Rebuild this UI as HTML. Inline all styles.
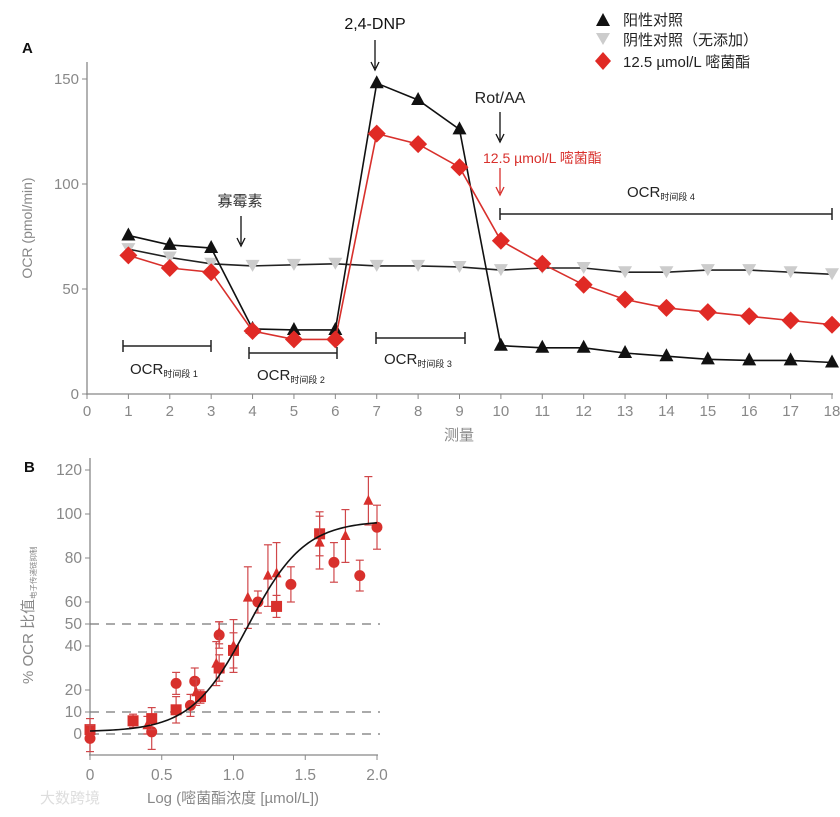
<!DOCTYPE html>
<html><head><meta charset="utf-8">
<style>
body{margin:0;background:#fff;width:840px;height:812px;overflow:hidden;font-family:"Liberation Sans","Noto Sans CJK SC",sans-serif}
svg text{font-family:"Liberation Sans","Noto Sans CJK SC",sans-serif}
</style></head>
<body>
<svg id="chart" width="840" height="812" viewBox="0 0 840 812" xmlns="http://www.w3.org/2000/svg"></svg>
<script>
// Panel A data
const measurements=[1,2,3,4,5,6,7,8,9,10,11,12,13,14,15,16,17,18];
const positiveCtrl=[75.5,71,69.5,31,30.5,30.5,148,140,126,23,22,22,19.5,18,16.5,16,16,15];
const negativeCtrl=[69,65,62,61,61.5,62,61,61,60.5,59,60,60,58,58,59,59,58,57];
const azoxy=[66,60,58,30,26,26,124,119,108,73,62,52,45,41,39,37,35,33];
const xTicksA=[0,1,2,3,4,5,6,7,8,9,10,11,12,13,14,15,16,17,18];
const yTicksA=[0,50,100,150];
// Panel B data
const bX=[0,0,0.3,0.4,0.43,0.43,0.6,0.6,0.7,0.73,0.74,0.77,0.88,0.9,0.9,0.9,1.0,1.0,1.1,1.17,1.24,1.3,1.3,1.4,1.6,1.6,1.7,1.78,1.88,1.94,2.0];
const bY=[2,-2,6,4,1,7,23,11,13,24,19,17,32,30,45,46,38,40,62,60,72,73,58,68,91,87,78,90,72,106,94];
const bErr=[5,6,3,4,8,5,5,6,5,6,6,3,10,6,6,5,8,12,14,5,14,14,5,8,10,12,9,12,7,11,10];
const bShape=['s','c','s','t','c','s','c','s','c','c','t','s','t','s','c','t','s','t','t','c','t','t','s','c','s','t','c','t','c','t','c'];
const fitParams=[1,97,1.1,2.2]; // bottom, top, logEC50, hill
const xTicksB=[0,0.5,1.0,1.5,2.0];
const yTicksB=[0,10,20,40,50,60,80,100,120];
const dashLines=[0,10,50];

const NS="http://www.w3.org/2000/svg";
const svg=document.getElementById('chart');
function el(tag,attrs,parent){const e=document.createElementNS(NS,tag);for(const k in attrs)e.setAttribute(k,attrs[k]);(parent||svg).appendChild(e);return e;}
function txt(s,attrs,parent){const e=el('text',attrs,parent);e.textContent=s;return e;}

// ===== Panel A =====
const ax=v=>87+v*(832-87)/18;
const ay=v=>394-v*2.1;
const gA=el('g',{});


txt('A',{x:22,y:53,'font-size':15,'font-weight':'bold',fill:'#111'},gA);
el('line',{x1:87,y1:62,x2:87,y2:395,stroke:'#888','stroke-width':1.3},gA);
el('line',{x1:86,y1:394,x2:833,y2:394,stroke:'#888','stroke-width':1.3},gA);
xTicksA.forEach(t=>{el('line',{x1:ax(t),y1:394,x2:ax(t),y2:399,stroke:'#888'},gA);
 const l=txt(t,{x:ax(t),y:416,'font-size':15,fill:'#888','text-anchor':'middle'},gA);
 });
yTicksA.forEach(t=>{el('line',{x1:82,y1:ay(t),x2:87,y2:ay(t),stroke:'#888'},gA);
 const l=txt(t,{x:79,y:ay(t)+5,'font-size':15,fill:'#888','text-anchor':'end'},gA);
 });
const ytA=txt('OCR (pmol/min)',{x:0,y:0,'font-size':14,fill:'#888','text-anchor':'middle',transform:'translate(32,228) rotate(-90)'},gA);

const xtA=txt('测量',{x:459,y:440,'font-size':15,fill:'#888','text-anchor':'middle'},gA);


function series(vals,color,marker,mcolor,name){
 const g=el('g',{},gA);
 el('polyline',{points:vals.map((v,i)=>ax(measurements[i])+','+ay(v)).join(' '),fill:'none',stroke:color,'stroke-width':1.6},g);
 vals.forEach((v,i)=>{const x=ax(measurements[i]),y=ay(v);let m;
  if(marker==='up')m=el('polygon',{points:`${x},${y-8} ${x-7},${y+5} ${x+7},${y+5}`,fill:mcolor},g);
  else if(marker==='down')m=el('polygon',{points:`${x},${y+6} ${x-7},${y-6} ${x+7},${y-6}`,fill:mcolor},g);
  else m=el('polygon',{points:`${x},${y-9} ${x+9},${y} ${x},${y+9} ${x-9},${y}`,fill:mcolor},g);
  });
}
series(negativeCtrl,'#222','down','#ccc','negative-control-series');
series(positiveCtrl,'#111','up','#111','positive-control-series');
series(azoxy,'#d8302c','diamond','#e02a25','azoxystrobin-series');

function arrow(x,y1,y2,color,name){const g=el('g',{},gA);
 el('line',{x1:x,y1:y1,x2:x,y2:y2-2,stroke:color,'stroke-width':1.3},g);
 el('path',{d:`M${x-4},${y2-8} L${x},${y2} L${x+4},${y2-8}`,fill:'none',stroke:color,'stroke-width':1.3},g);}
txt('2,4-DNP',{x:375,y:29,'font-size':16,fill:'#111','text-anchor':'middle'},gA);
arrow(375,40,70,'#111','dnp-arrow');
txt('寡霉素',{x:240,y:206,'font-size':15,fill:'#333','text-anchor':'middle'},gA);
arrow(241,216,246,'#111','oligomycin-arrow');
txt('Rot/AA',{x:500,y:103,'font-size':16,fill:'#222','text-anchor':'middle'},gA);
arrow(500,112,142,'#111','rotaa-arrow');
txt('12.5 µmol/L 嘧菌酯',{x:483,y:163,'font-size':14,fill:'#d8302c'},gA);
arrow(500,168,195,'#d8302c','azoxy-arrow');

function bracket(x1,x2,y,label,ly,lx,name){const g=el('g',{},gA);
 el('line',{x1:x1,y1:y,x2:x2,y2:y,stroke:'#222','stroke-width':1.5},g);
 el('line',{x1:x1,y1:y-6,x2:x1,y2:y+6,stroke:'#222','stroke-width':1.5},g);
 el('line',{x1:x2,y1:y-6,x2:x2,y2:y+6,stroke:'#222','stroke-width':1.5},g);
 const t=txt('OCR',{x:lx,y:ly,'font-size':15,fill:'#222'},g);
 const s=el('tspan',{'font-size':9,dy:3},t);s.textContent='时间段 '+label;}
bracket(123,211,346,'1',374,130,'ocr-period-1');
bracket(249,337,353,'2',380,257,'ocr-period-2');
bracket(376,465,338,'3',364,384,'ocr-period-3');
bracket(500,832,214,'4',197,627,'ocr-period-4');

const leg=el('g',{},gA);
el('polygon',{points:'603,13 596,26 610,26',fill:'#111'},leg);
txt('阳性对照',{x:623,y:25,'font-size':15,fill:'#222'},leg);
el('polygon',{points:'603,45 596,33 610,33',fill:'#ccc'},leg);
txt('阴性对照（无添加）',{x:623,y:45,'font-size':15,fill:'#222'},leg);
el('polygon',{points:'603,52 611,61 603,70 595,61',fill:'#e02a25'},leg);
txt('12.5 µmol/L 嘧菌酯',{x:623,y:67,'font-size':15,fill:'#222'},leg);

// ===== Panel B =====
const bx=v=>90+v*(377-90)/2;
const by=v=>734-v*2.2;
const gB=el('g',{});

txt('B',{x:24,y:472,'font-size':15,'font-weight':'bold',fill:'#111'},gB);
el('line',{x1:90,y1:458,x2:90,y2:755,stroke:'#888','stroke-width':1.3},gB);
el('line',{x1:89,y1:755,x2:378,y2:755,stroke:'#888','stroke-width':1.3},gB);
dashLines.forEach(d=>{const l=el('line',{x1:90,y1:by(d),x2:380,y2:by(d),stroke:'#777','stroke-width':1.3,'stroke-dasharray':'9,7'},gB);
 });
xTicksB.forEach(t=>{el('line',{x1:bx(t),y1:755,x2:bx(t),y2:760,stroke:'#888'},gB);
 const l=txt(t.toFixed(t===0?0:1),{x:bx(t),y:780,'font-size':15.5,fill:'#888','text-anchor':'middle'},gB);
 });
yTicksB.forEach(t=>{el('line',{x1:85,y1:by(t),x2:90,y2:by(t),stroke:'#888'},gB);
 const l=txt(t,{x:82,y:by(t)+5,'font-size':15.5,fill:'#888','text-anchor':'end'},gB);
 });
const ytB=txt('% OCR 比值',{x:0,y:0,'font-size':15,fill:'#888','text-anchor':'start',transform:'translate(33,684) rotate(-90)'},gB);
const ytSub=el('tspan',{'font-size':7.5,dy:3},ytB);ytSub.textContent='电子传递链抑制';

const xtB=txt('Log (嘧菌酯浓度 [µmol/L])',{x:233,y:803,'font-size':15,fill:'#888','text-anchor':'middle'},gB);

txt('大数跨境',{x:40,y:803,'font-size':15,fill:'#ddd'},gB);

bX.forEach((v,i)=>{const x=bx(v),y=by(bY[i]),e=bErr[i]*2.2;
 const g=el('g',{},gB);
 el('line',{x1:x,y1:y-e,x2:x,y2:y+e,stroke:'#d0474a','stroke-width':1.2},g);
 el('line',{x1:x-4,y1:y-e,x2:x+4,y2:y-e,stroke:'#d0474a','stroke-width':1.2},g);
 el('line',{x1:x-4,y1:y+e,x2:x+4,y2:y+e,stroke:'#d0474a','stroke-width':1.2},g);
 const s=bShape[i];
 if(s==='s')el('rect',{x:x-5.5,y:y-5.5,width:11,height:11,fill:'#d8302c'},g);
 else if(s==='c')el('circle',{cx:x,cy:y,r:5.5,fill:'#d8302c'},g);
 else el('polygon',{points:`${x},${y-6} ${x-5},${y+4} ${x+5},${y+4}`,fill:'#d8302c'},g);});

const fBot=fitParams[0],fTop=fitParams[1],fEc=fitParams[2],fHill=fitParams[3];
const fitPts=[];
for(let i=0;i<=100;i++){const v=2*i/100;const yv=fBot+(fTop-fBot)/(1+Math.pow(10,(fEc-v)*fHill));fitPts.push(bx(v)+','+by(yv));}
const fit=el('polyline',{points:fitPts.join(' '),fill:'none',stroke:'#111','stroke-width':1.6},gB);

</script>
</body></html>
